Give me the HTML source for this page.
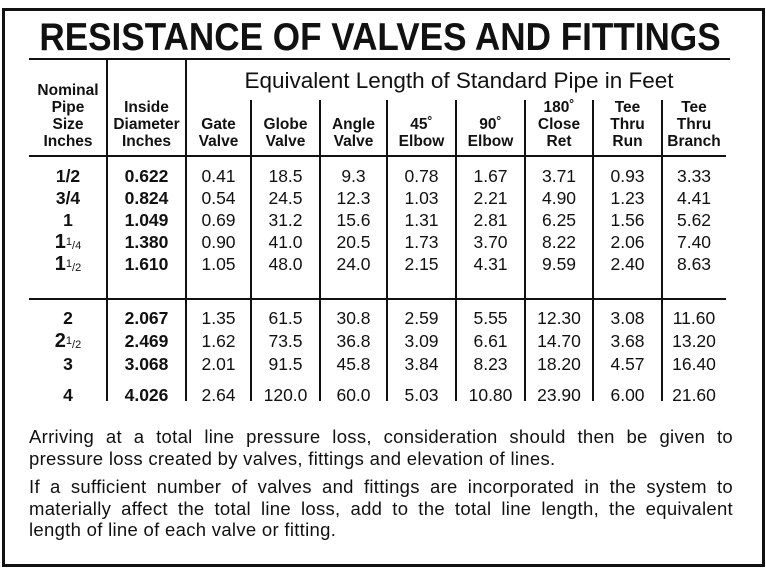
<!DOCTYPE html>
<html><head><meta charset="utf-8">
<style>
body{margin:0;width:766px;height:572px;background:#fff;position:relative;overflow:hidden;font-family:"Liberation Sans",Arial,sans-serif;color:#111}
.a{position:absolute}
.t{position:absolute;transform:translateX(-50%);white-space:nowrap;text-align:center}
.hd{font-weight:bold;font-size:15.5px;line-height:17px}
.d{font-size:17.5px;line-height:20px}
.b{font-weight:bold}
.fr{font-size:11px;vertical-align:3px;font-weight:normal}
.fr2{font-size:11px;vertical-align:-1px;font-weight:normal}
.big{font-size:20px}
.ln{text-align:justify;text-align-last:justify;white-space:nowrap;height:21.5px}
.ln.last{text-align-last:left}
</style></head><body>
<div class="a" style="left:2px;top:8px;width:757px;height:553px;border:3px solid #111"></div>
<div class="t b" style="left:380px;top:16px;font-size:39px;line-height:44px;transform:translateX(-50%) scaleX(0.9)">RESISTANCE OF VALVES AND FITTINGS</div>
<div class="a" style="left:29px;top:58px;width:701px;height:2px;background:#111"></div>
<div class="t" style="left:459px;top:68px;font-size:22.5px;line-height:26px">Equivalent Length of Standard Pipe in Feet</div>
<div class="a" style="left:29px;top:155px;width:697px;height:2px;background:#111"></div>
<div class="a" style="left:29px;top:298px;width:697px;height:2px;background:#111"></div>
<div id="tbl"></div>
<div class="a" style="left:29px;top:426px;width:704px;font-size:18.5px;line-height:21.5px;letter-spacing:0.3px">
<div>
<div class="ln">Arriving at a total line pressure loss, consideration should then be given to</div>
<div class="ln last">pressure loss created by valves, fittings and elevation of lines.</div>
</div>
<div style="margin-top:7px">
<div class="ln">If a sufficient number of valves and fittings are incorporated in the system to</div>
<div class="ln">materially affect the total line loss, add to the total line length, the equivalent</div>
<div class="ln last">length of line of each valve or fitting.</div>
</div>
</div>
<script>
const sizes=["1/2","3/4","1","1|1/4","1|1/2","2","2|1/2","3","4"];
const diam=["0.622","0.824","1.049","1.380","1.610","2.067","2.469","3.068","4.026"];
const gate=["0.41","0.54","0.69","0.90","1.05","1.35","1.62","2.01","2.64"];
const globe=["18.5","24.5","31.2","41.0","48.0","61.5","73.5","91.5","120.0"];
const angle=["9.3","12.3","15.6","20.5","24.0","30.8","36.8","45.8","60.0"];
const elb45=["0.78","1.03","1.31","1.73","2.15","2.59","3.09","3.84","5.03"];
const elb90=["1.67","2.21","2.81","3.70","4.31","5.55","6.61","8.23","10.80"];
const ret180=["3.71","4.90","6.25","8.22","9.59","12.30","14.70","18.20","23.90"];
const teeRun=["0.93","1.23","1.56","2.06","2.40","3.08","3.68","4.57","6.00"];
const teeBranch=["3.33","4.41","5.62","7.40","8.63","11.60","13.20","16.40","21.60"];
const headers=[["Nominal","Pipe","Size","Inches"],["Inside","Diameter","Inches"],["Gate","Valve"],["Globe","Valve"],["Angle","Valve"],["45˚","Elbow"],["90˚","Elbow"],["180˚","Close","Ret"],["Tee","Thru","Run"],["Tee","Thru","Branch"]];
const edges=[29,107,186,251,320,387,456,525,593,662,726];
const rowY=[166,188,210,232,254,308,331,354,385];
const tbl=document.getElementById('tbl');
const cols=[null,diam,gate,globe,angle,elb45,elb90,ret180,teeRun,teeBranch];
for(let i=1;i<edges.length-1;i++){
  const v=document.createElement('div');v.className='a';
  
  
  const top=i<=2?60:100;
  v.style.cssText=`left:${edges[i]-1}px;top:${top}px;width:2px;height:${401-top}px;background:#111`;
  tbl.appendChild(v);
}
headers.forEach((h,c)=>{
  const e=document.createElement('div');e.className='t hd';
  
  
  e.style.left=((edges[c]+edges[c+1])/2)+'px';
  e.style.top=(150-h.length*17)+'px';
  e.innerHTML=h.join('<br>');tbl.appendChild(e);
});
for(let r=0;r<sizes.length;r++){
  for(let c=0;c<10;c++){
    const e=document.createElement('div');e.className='t d'+(c<2?' b':'');
    
    
    e.style.left=((edges[c]+edges[c+1])/2)+'px';
    e.style.top=rowY[r]+'px';
    if(c==0){const p=sizes[r].split('|');
      if(p.length>1){const f=p[1].split('/');e.innerHTML='<span class="big">'+p[0]+'</span><span class="fr">'+f[0]+'</span><span class="fr2">/'+f[1]+'</span>';}
      else e.textContent=p[0];}
    else e.textContent=cols[c][r];
    tbl.appendChild(e);
  }
}
</script>
</body></html>
